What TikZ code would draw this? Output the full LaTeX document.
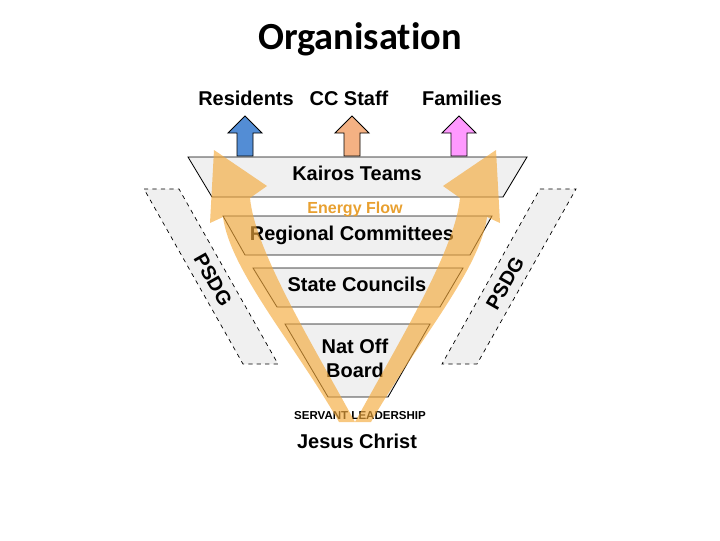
\documentclass[tikz,border=0pt]{standalone}
\usepackage{fontspec}
\setmainfont{Liberation Sans}
\newfontfamily\titlefont[Ligatures=NoCommon]{Carlito}
\usepackage{xcolor}
\usepackage{tikz}

\definecolor{tiergray}{RGB}{240,240,240}
\definecolor{flow}{RGB}{244,170,60}
\definecolor{flowtext}{RGB}{232,160,48}
\definecolor{resblue}{RGB}{83,141,213}
\definecolor{staffpeach}{RGB}{244,177,131}
\definecolor{familypink}{RGB}{255,153,255}

% one curved energy arrow, drawn relative to the centre line x=355
\newcommand{\flowarrow}{%
  \fill[flow, fill opacity=0.65] (0,422) .. controls (-45,340) and (-100,250) .. (-105,198)
    -- (-88,186) -- (-141,150) -- (-145,223) -- (-132,217)
    .. controls (-125,270) and (-60,345) .. (-16,422) -- cycle;}

\begin{document}
\begin{tikzpicture}[
    x=0.025cm, y=-0.025cm,
    tier/.style={draw, fill=tiergray, line width=0.6pt},
    band/.style={draw, dashed, fill=tiergray, line width=0.5pt},
    label/.style={font=\bfseries\fontsize{14.2}{17}\selectfont, anchor=base, inner sep=0pt},
    group/.style={draw, line width=0.6pt}
]
\useasboundingbox (0,0) rectangle (720,540);

% Title
\node[anchor=base, inner sep=0pt, font=\titlefont\bfseries\fontsize{27.3}{32}\selectfont] (title) at (360,49) {Organisation};

% PSDG bands
\draw[band] (144,189) -- (179,189) -- (278,364) -- (243,364) -- cycle;
\draw[band] (540,189) -- (576,189) -- (477,364) -- (442,364) -- cycle;
\node[label, anchor=center, rotate=-60.5] (psdgL) at (213,280) {PSDG};
\node[label, anchor=center, rotate=60.5] (psdgR) at (505,283) {PSDG};

% Tiers
\draw[tier] (188,157) -- (527,157) -- (503,197) -- (212,197) -- cycle;
\draw[tier] (223,216) -- (492,216) -- (470,255) -- (245,255) -- cycle;
\draw[tier] (253,268) -- (463,268) -- (440,307) -- (277,307) -- cycle;
\draw[tier] (285,324) -- (430,324) -- (388,397) -- (328,397) -- cycle;

% Texts
\node[label] (residents) at (246,105) {Residents};
\node[label] (ccstaff) at (349,105) {CC Staff};
\node[label] (families) at (462,105) {Families};
\node[label] (kairos) at (357,180) {Kairos Teams};
\node[label, text=flowtext, font=\bfseries\fontsize{11.4}{13}\selectfont] (energy) at (355,213) {Energy Flow};
\node[label] (regional) at (352,240) {Regional Committees};
\node[label] (state) at (357,291) {State Councils};
\node[label] (natoff) at (355,353) {Nat Off};
\node[label] (board) at (355,377) {Board};
\node[label, font=\bfseries\fontsize{8.2}{10}\selectfont] (servant) at (360,419) {SERVANT LEADERSHIP};
\node[label] (jesus) at (357,448) {Jesus Christ};

% Energy flow arrows
\begin{scope}[shift={(355,0)}]
  \flowarrow
\end{scope}
\begin{scope}[shift={(355,0)}, xscale=-1]
  \flowarrow
\end{scope}

% Arrows up to the groups
\foreach \x/\col in {245/resblue, 352/staffpeach, 459/familypink}
  \draw[group, fill=\col] ({\x-8},156) -- ({\x-8},133) -- ({\x-17},133) -- (\x,116)
    -- ({\x+17},133) -- ({\x+8},133) -- ({\x+8},156) -- cycle;

\end{tikzpicture}
\end{document}
